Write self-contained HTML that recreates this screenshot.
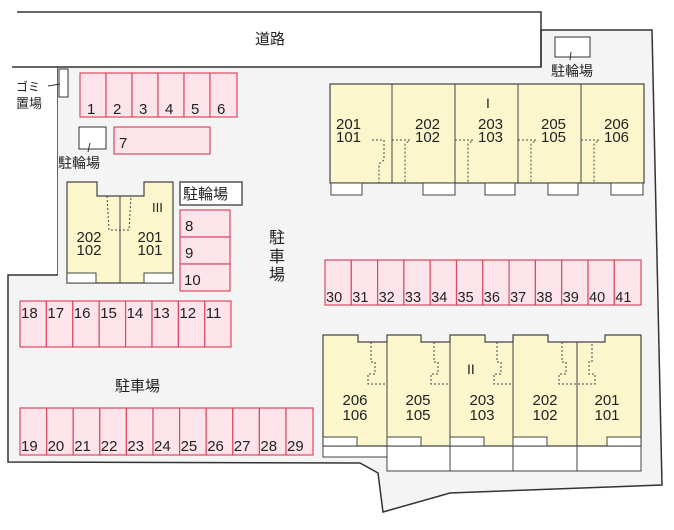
<!DOCTYPE html>
<html><head><meta charset="utf-8"><style>
html,body{margin:0;padding:0;background:#fff;}
svg text{font-family:"Liberation Sans","Noto Sans CJK JP",sans-serif;fill:#222;}
</style></head><body>
<svg width="674" height="525" viewBox="0 0 674 525" xmlns="http://www.w3.org/2000/svg">
<polygon points="57,67 541,67 541,30 652,30 662,485 450,493 383,512 378,473 360,463 8,462 8,275 57,275" fill="#f4f4f4" stroke="#333" stroke-width="1.5"/>
<rect x="8" y="67" width="49" height="207" fill="#fff"/>
<line x1="12" y1="67" x2="57" y2="67" stroke="#333" stroke-width="1.5"/>
<polyline points="17,12 541,12 541,67" fill="none" stroke="#333" stroke-width="1.5"/>
<text x="270" y="44" font-size="15" text-anchor="middle">道路</text>
<rect x="59" y="69" width="9" height="28" fill="#fff" stroke="#333"/>
<text x="16" y="91" font-size="12">ゴミ</text>
<text x="16" y="108" font-size="13">置場</text>
<line x1="48" y1="86" x2="60" y2="84" stroke="#333"/>
<rect x="79" y="127" width="27" height="22" fill="#fff" stroke="#333"/>
<line x1="90" y1="143" x2="88" y2="152" stroke="#333"/>
<text x="58" y="168" font-size="14">駐輪場</text>
<rect x="555" y="37" width="35" height="20" fill="#fff" stroke="#333"/>
<line x1="571" y1="52" x2="570" y2="60" stroke="#333"/>
<text x="551" y="76" font-size="14">駐輪場</text>
<rect x="180" y="182" width="62" height="23" fill="#fff" stroke="#555" stroke-width="1.5"/>
<text x="183" y="199" font-size="15">駐輪場</text>
<g fill="#fde4ea" stroke="#d94a62" stroke-width="1.2">
<rect x="80" y="73" width="26" height="44"/><rect x="106" y="73" width="26" height="44"/><rect x="132" y="73" width="26" height="44"/><rect x="158" y="73" width="26" height="44"/><rect x="184" y="73" width="26" height="44"/><rect x="210" y="73" width="27" height="44"/>
<rect x="114" y="127" width="96" height="27"/>
<rect x="180" y="210" width="50" height="27"/><rect x="180" y="237" width="50" height="27"/><rect x="180" y="264" width="50" height="27"/>
<rect x="20" y="301" width="26.4" height="46"/><rect x="46.4" y="301" width="26.4" height="46"/><rect x="72.8" y="301" width="26.4" height="46"/><rect x="99.2" y="301" width="26.4" height="46"/><rect x="125.6" y="301" width="26.4" height="46"/><rect x="152" y="301" width="26.4" height="46"/><rect x="178.4" y="301" width="26.4" height="46"/><rect x="204.8" y="301" width="26.2" height="46"/>
<rect x="20" y="408" width="26.6" height="47"/><rect x="46.6" y="408" width="26.6" height="47"/><rect x="73.2" y="408" width="26.6" height="47"/><rect x="99.8" y="408" width="26.6" height="47"/><rect x="126.4" y="408" width="26.6" height="47"/><rect x="153" y="408" width="26.6" height="47"/><rect x="179.6" y="408" width="26.6" height="47"/><rect x="206.2" y="408" width="26.6" height="47"/><rect x="232.8" y="408" width="26.6" height="47"/><rect x="259.4" y="408" width="26.6" height="47"/><rect x="286" y="408" width="27" height="47"/>
<rect x="325" y="260" width="26.3" height="45"/><rect x="351.3" y="260" width="26.3" height="45"/><rect x="377.6" y="260" width="26.3" height="45"/><rect x="403.9" y="260" width="26.3" height="45"/><rect x="430.2" y="260" width="26.3" height="45"/><rect x="456.5" y="260" width="26.3" height="45"/><rect x="482.8" y="260" width="26.3" height="45"/><rect x="509.1" y="260" width="26.3" height="45"/><rect x="535.4" y="260" width="26.3" height="45"/><rect x="561.7" y="260" width="26.3" height="45"/><rect x="588" y="260" width="26.3" height="45"/><rect x="614.3" y="260" width="26.7" height="45"/>
</g>
<g font-size="15">
<text x="87" y="114">1</text><text x="113" y="114">2</text><text x="139" y="114">3</text><text x="165" y="114">4</text><text x="191" y="114">5</text><text x="217" y="114">6</text>
<text x="119" y="148">7</text>
<text x="185" y="231">8</text><text x="185" y="258">9</text><text x="184" y="285">10</text>
<text x="21" y="318">18</text><text x="47.4" y="318">17</text><text x="73.8" y="318">16</text><text x="100.2" y="318">15</text><text x="126.6" y="318">14</text><text x="153" y="318">13</text><text x="179.4" y="318">12</text><text x="205.8" y="318">11</text>
<text x="21" y="451">19</text><text x="47.6" y="451">20</text><text x="74.2" y="451">21</text><text x="100.8" y="451">22</text><text x="127.4" y="451">23</text><text x="154" y="451">24</text><text x="180.6" y="451">25</text><text x="207.2" y="451">26</text><text x="233.8" y="451">27</text><text x="260.4" y="451">28</text><text x="287" y="451">29</text>
</g>
<g font-size="14.5">
<text x="326" y="302">30</text><text x="352.3" y="302">31</text><text x="378.6" y="302">32</text><text x="404.9" y="302">33</text><text x="431.2" y="302">34</text><text x="457.5" y="302">35</text><text x="483.8" y="302">36</text><text x="510.1" y="302">37</text><text x="536.4" y="302">38</text><text x="562.7" y="302">39</text><text x="589" y="302">40</text><text x="615.3" y="302">41</text>
</g>
<text x="269" y="243" font-size="16">駐</text><text x="269" y="262" font-size="16">車</text><text x="269" y="280" font-size="16">場</text>
<text x="115" y="391" font-size="15">駐車場</text>

<polygon points="67,182 97,182 97,196 144,196 144,182 173,182 173,283 67,283" fill="#fbf6cc" stroke="#444" stroke-width="1.2"/>
<line x1="120" y1="196" x2="120" y2="283" stroke="#444"/>
<rect x="67" y="273" width="29" height="10" fill="#fff" stroke="#444"/>
<rect x="144" y="273" width="29" height="10" fill="#fff" stroke="#444"/>
<polyline points="107,196 109,230 129,230 131,196" fill="none" stroke="#444" stroke-dasharray="2,2"/>
<text x="152" y="212" font-size="13" font-family="Liberation Serif">III</text>
<g font-size="15" text-anchor="middle"><text x="89" y="242">202</text><text x="89" y="255">102</text><text x="150" y="242">201</text><text x="150" y="255">101</text></g>

<rect x="330" y="84" width="314" height="99" fill="#fbf6cc" stroke="#444" stroke-width="1.2"/>
<g stroke="#444"><line x1="392" y1="84" x2="392" y2="183"/><line x1="455" y1="84" x2="455" y2="183"/><line x1="518" y1="84" x2="518" y2="183"/><line x1="581" y1="84" x2="581" y2="183"/></g>
<g fill="#fff" stroke="#444"><rect x="331" y="183" width="31" height="12"/><rect x="423" y="183" width="32" height="12"/><rect x="485" y="183" width="30" height="12"/><rect x="548" y="183" width="30" height="12"/><rect x="611" y="183" width="32" height="12"/></g>
<g fill="none" stroke="#444" stroke-dasharray="2,2">
<polyline points="372,140 384,140 384,160 379,164 379,183"/><polyline points="392,140 410,140 405,144 405,183"/>
<polyline points="455,140 473,140 468,144 468,183"/><polyline points="518,140 536,140 531,144 531,183"/><polyline points="581,140 599,140 594,144 594,183"/>
</g>
<text x="486" y="108" font-size="14" font-family="Liberation Serif">I</text>
<g font-size="15"><text x="336" y="129">201</text><text x="336" y="142">101</text>
<text x="415" y="129">202</text><text x="415" y="142">102</text>
<text x="478" y="129">203</text><text x="478" y="142">103</text>
<text x="541" y="129">205</text><text x="541" y="142">105</text>
<text x="604" y="129">206</text><text x="604" y="142">106</text></g>

<rect x="387" y="446" width="254" height="25" fill="#fff" stroke="#444"/>
<rect x="323" y="446" width="64" height="11" fill="#fff" stroke="#444"/>
<polygon points="323,335 358,335 358,342 387,342 387,335 421,335 421,342 450,342 450,335 485,335 485,342 513,342 513,335 548,335 548,342 605,342 605,335 641,335 641,446 323,446" fill="#fbf6cc" stroke="#444" stroke-width="1.2"/>
<g stroke="#444"><line x1="387" y1="335" x2="387" y2="471"/><line x1="450" y1="342" x2="450" y2="471"/><line x1="513" y1="342" x2="513" y2="471"/><line x1="577" y1="342" x2="577" y2="471"/></g>
<g fill="#fff" stroke="#444"><rect x="323" y="437" width="34" height="9"/><rect x="387" y="437" width="34" height="9"/><rect x="450" y="437" width="34" height="9"/><rect x="513" y="437" width="34" height="9"/><rect x="607" y="437" width="34" height="9"/></g>
<g fill="none" stroke="#444" stroke-dasharray="2,2">
<polyline points="371,342 371,362 375,362 375,374 368,374 368,384 387,384"/>
<polyline points="434,342 434,362 438,362 438,374 431,374 431,384 450,384"/>
<polyline points="497,342 497,362 501,362 501,374 494,374 494,384 513,384"/>
<polyline points="562,342 562,362 566,362 566,374 559,374 559,384 595,384 595,374 589,374 589,362 592,362 592,342"/>
</g>
<text x="467" y="374" font-size="14" font-family="Liberation Serif">II</text>
<g font-size="15" text-anchor="middle"><text x="355" y="405">206</text><text x="355" y="420">106</text>
<text x="418" y="405">205</text><text x="418" y="420">105</text>
<text x="482" y="405">203</text><text x="482" y="420">103</text>
<text x="545" y="405">202</text><text x="545" y="420">102</text>
<text x="607" y="405">201</text><text x="607" y="420">101</text></g>
</svg>
</body></html>
